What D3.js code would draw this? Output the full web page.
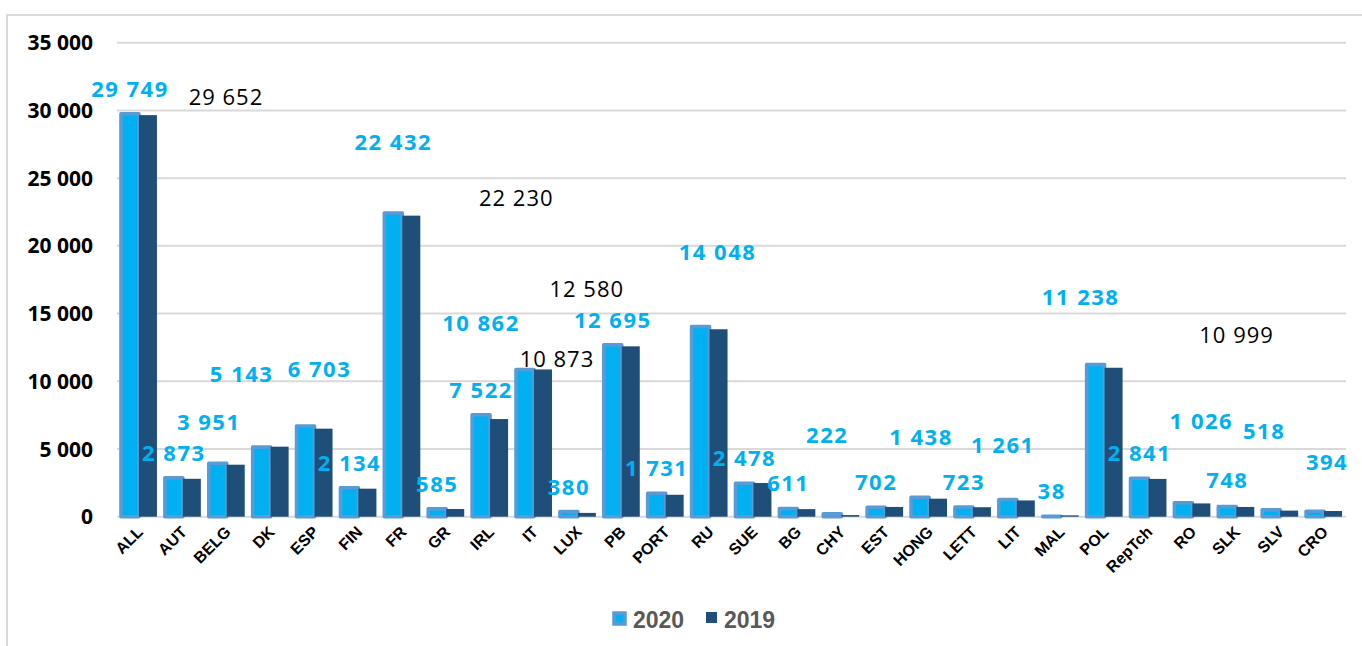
<!DOCTYPE html>
<html>
<head>
<meta charset="utf-8">
<script src="https://cdn.jsdelivr.net/npm/d3@7"></script>
<style>
    body { margin: 0; background: #fff; }
    .tick-label { font-family: "Open Sans", sans-serif; font-weight: bold; font-size: 21px; fill: #000; }
    .cat-label { font-family: "Liberation Sans", Arial, sans-serif; font-weight: bold; font-size: 16px; fill: #000; }
    .lab20 { font-family: "Open Sans", sans-serif; font-weight: bold; font-size: 22px; letter-spacing: 1.5px; fill: #00B0F0; }
    .lab19 { font-family: "Open Sans", sans-serif; font-size: 22px; letter-spacing: 1px; fill: #000; }
    .legend { font-family: "Liberation Sans", Arial, sans-serif; font-weight: bold; font-size: 23px; fill: #595959; }
</style>
</head>
<body>
<svg id="chart" width="1362" height="646"></svg>
<script>
// Data
const categories = ["ALL", "AUT", "BELG", "DK", "ESP", "FIN", "FR", "GR", "IRL", "IT", "LUX", "PB", "PORT", "RU",
    "SUE", "BG", "CHY", "EST", "HONG", "LETT", "LIT", "MAL", "POL", "RepTch", "RO", "SLK", "SLV", "CRO"];
const values2020 = [29749, 2873, 3951, 5143, 6703, 2134, 22432, 585, 7522, 10862, 380, 12695, 1731, 14048,
    2478, 611, 222, 702, 1438, 723, 1261, 38, 11238, 2841, 1026, 748, 518, 394];
const values2019 = [29652, 2800, 3840, 5170, 6500, 2070, 22230, 570, 7210, 10873, 280, 12580, 1620, 13840,
    2490, 560, 120, 720, 1330, 700, 1200, 100, 10999, 2790, 980, 720, 450, 420];
const labelled2019 = ["ALL", "FR", "IT", "PB", "POL"];
const yTicks = [0, 5000, 10000, 15000, 20000, 25000, 30000, 35000];
const seriesNames = ["2020", "2019"];

// label nudges (px), the labels were dragged around in the original
const nudge2020 = {BELG: [-9, -16], DK: [-20, -48], ESP: [14, -32], FR: [0, -46], IT: [-44, -22], RU: [17, -49],
    CHY: [-5, -54], HONG: [1, -35], LIT: [-5, -30], POL: [-15, -43], RO: [18, -57], SLV: [-7, -54],
    CRO: [12, -24], SLK: [0, -2]};
const nudge2019 = {ALL: [78, 7], FR: [105, 7], IT: [14, 15], PB: [-44, -32], POL: [123, -8]};

const col2020 = "#00B0F0", border2020 = "#5B9BD5", col2019 = "#1F4E79", gridCol = "#d9d9d9";

const svg = d3.select("#chart");
const fmt = v => d3.format(",")(v).replace(/,/g, " ");

// frame
svg.append("path")
    .attr("d", "M7,646 V15 H1362")
    .attr("fill", "none")
    .attr("stroke", gridCol)
    .attr("stroke-width", 2);

// Scales
const x = d3.scaleBand()
    .domain(categories)
    .range([117, 1346])
    .paddingInner(0.18)
    .paddingOuter(0.09);

const y = d3.scaleLinear()
    .domain([0, 35000])
    .range([516.7, 42.7]);

const half = x.bandwidth() / 2;

// Gridlines
svg.append("g")
    .selectAll("line")
    .data(yTicks)
    .enter()
    .append("line")
    .attr("x1", 117)
    .attr("x2", 1346)
    .attr("y1", d => y(d))
    .attr("y2", d => y(d))
    .attr("stroke", gridCol)
    .attr("stroke-width", 2);

// y labels
svg.append("g")
    .selectAll("text")
    .data(yTicks)
    .enter()
    .append("text")
    .attr("class", "tick-label")
    .attr("x", 93)
    .attr("y", d => y(d))
    .attr("dy", "0.36em")
    .attr("text-anchor", "end")
    .text(d => fmt(d));

// 2020 bars
svg.append("g")
    .selectAll("rect")
    .data(values2020)
    .enter()
    .append("rect")
    .attr("x", (d, i) => x(categories[i]))
    .attr("y", d => y(d))
    .attr("width", half)
    .attr("height", d => y(0) - y(d))
    .attr("fill", col2020)
    .attr("stroke", border2020)
    .attr("stroke-width", 3.5)
    .attr("stroke-linejoin", "round");

// 2019 bars
svg.append("g")
    .selectAll("rect")
    .data(values2019)
    .enter()
    .append("rect")
    .attr("x", (d, i) => x(categories[i]) + half)
    .attr("y", d => y(d))
    .attr("width", half)
    .attr("height", d => y(0) - y(d))
    .attr("fill", col2019);

// category labels
svg.append("g")
    .selectAll("text")
    .data(categories)
    .enter()
    .append("text")
    .attr("class", "cat-label")
    .attr("text-anchor", "end")
    .attr("transform", d => "translate(" + (x(d) + half + 5) + ",533) rotate(-45)")
    .text(d => d);

// 2020 value labels
svg.append("g")
    .selectAll("text")
    .data(values2020)
    .enter()
    .append("text")
    .attr("class", "lab20")
    .attr("text-anchor", "middle")
    .attr("x", (d, i) => x(categories[i]) + half / 2 + (nudge2020[categories[i]] || [0, 0])[0])
    .attr("y", (d, i) => y(d) - 17 + (nudge2020[categories[i]] || [0, 0])[1])
    .text(d => fmt(d));

// 2019 value labels (only a few shown)
svg.append("g")
    .selectAll("text")
    .data(labelled2019)
    .enter()
    .append("text")
    .attr("class", "lab19")
    .attr("text-anchor", "middle")
    .attr("x", d => x(d) + half * 1.5 + nudge2019[d][0])
    .attr("y", d => y(values2019[categories.indexOf(d)]) - 17 + nudge2019[d][1])
    .text(d => fmt(values2019[categories.indexOf(d)]));

// Legend
const legend = svg.append("g");
legend.append("rect")
    .attr("x", 614).attr("y", 613)
    .attr("width", 11).attr("height", 11)
    .attr("fill", col2020)
    .attr("stroke", border2020)
    .attr("stroke-width", 3.5);
legend.append("rect")
    .attr("x", 706).attr("y", 612)
    .attr("width", 11).attr("height", 11)
    .attr("fill", col2019);
legend.selectAll("text")
    .data(seriesNames)
    .enter()
    .append("text")
    .attr("class", "legend")
    .attr("x", (d, i) => i === 0 ? 633 : 724)
    .attr("y", 628)
    .text(d => d);
</script>
</body>
</html>
